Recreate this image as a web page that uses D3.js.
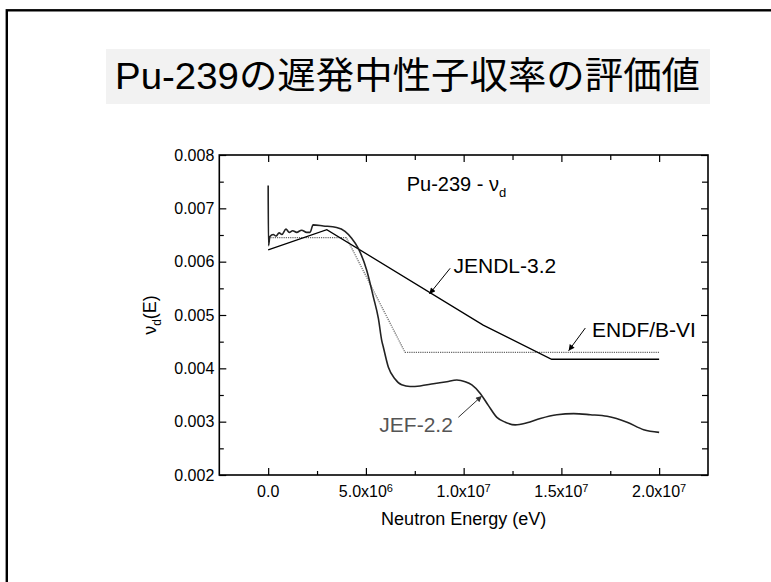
<!DOCTYPE html>
<html>
<head>
<meta charset="utf-8">
<script src="https://cdn.jsdelivr.net/npm/d3@7"></script>
<style>
  body { margin: 0; background: #fff; }
  svg { display: block; }
  text { font-family: "Liberation Sans", Arial, "Noto Sans CJK JP", sans-serif; }
</style>
</head>
<body>
<svg id="chart" width="771" height="582"></svg>
<script>
// ---- data ----
const slideTitle = "Pu-239の遅発中性子収率の評価値";
const plotTitle = "Pu-239 - ν";
const plotTitleSub = "d";
const xAxisTitle = "Neutron Energy (eV)";

const energyTicks = [0, 5e6, 1e7, 1.5e7, 2e7];
const energyTickMantissa = ["0.0", "5.0", "1.0", "1.5", "2.0"];
const energyTickExponent = ["", "6", "7", "7", "7"];
const energyMinorTicks = [2.5e6, 7.5e6, 1.25e7, 1.75e7];
const yieldTicks = [0.002, 0.003, 0.004, 0.005, 0.006, 0.007, 0.008];
const yieldMinorTicks = [0.0025, 0.0035, 0.0045, 0.0055, 0.0065, 0.0075];

// JENDL-3.2 delayed neutron yield
const jendlEnergy = [0, 3.0e6, 1.1e7, 1.45e7, 2.0e7];
const jendlNu = [0.00622, 0.00660, 0.00481, 0.00417, 0.00417];

// ENDF/B-VI delayed neutron yield
const endfEnergy = [0, 4.0e6, 7.0e6, 2.0e7];
const endfNu = [0.00645, 0.00645, 0.00430, 0.00430];

// JEF-2.2 delayed neutron yield
const jefEnergy = [0, 1.5e4, 9e4, 2.6e5, 4.0e5, 5.6e5, 7.0e5, 9.1e5, 1.08e6, 1.25e6,
  1.46e6, 1.71e6, 1.97e6, 2.14e6, 2.30e6, 2.82e6, 3.50e6, 3.93e6, 4.27e6, 4.61e6,
  5.04e6, 5.38e6, 5.64e6, 5.81e6, 5.89e6, 6.15e6, 6.49e6, 6.83e6, 7.26e6, 7.77e6,
  8.45e6, 9.14e6, 9.65e6, 1.008e7, 1.042e7, 1.085e7, 1.127e7, 1.17e7, 1.213e7, 1.264e7,
  1.324e7, 1.392e7, 1.477e7, 1.563e7, 1.648e7, 1.734e7, 1.836e7, 1.921e7, 2.0e7];
const jefNu = [0.00743, 0.00630, 0.00647, 0.00651, 0.00648, 0.00654, 0.00651, 0.00661, 0.00655, 0.00658,
  0.00655, 0.00659, 0.00655, 0.00655, 0.00669, 0.00667, 0.00664, 0.00657, 0.00644, 0.00625,
  0.00584, 0.00534, 0.00493, 0.00452, 0.00440, 0.00402, 0.00380, 0.00369, 0.00366, 0.00367,
  0.00371, 0.00375, 0.00378, 0.00375, 0.00369, 0.00353, 0.00330, 0.00308, 0.00299, 0.00294,
  0.00298, 0.00306, 0.00313, 0.00315, 0.00313, 0.00310, 0.00299, 0.00285, 0.00280];

const seriesNames = ["JENDL-3.2", "ENDF/B-VI", "JEF-2.2"];

// ---- layout ----
const svg = d3.select("#chart");
const plot = { left: 219.3, right: 708, top: 155, bottom: 475 };

const x = d3.scaleLinear().domain([-2.5e6, 2.25e7]).range([plot.left, plot.right]);
const y = d3.scaleLinear().domain([0.002, 0.008]).range([plot.bottom, plot.top]);

// slide frame
svg.append("rect")
  .attr("x", 6.8).attr("y", 10.3).attr("width", 820).attr("height", 620)
  .attr("fill", "none").attr("stroke", "#000").attr("stroke-width", 2.4);

// slide title on a light panel
svg.append("rect")
  .attr("x", 106).attr("y", 49).attr("width", 604).attr("height", 55)
  .attr("fill", "#f2f2f2");
svg.append("text")
  .attr("x", 407.5).attr("y", 89)
  .attr("text-anchor", "middle")
  .attr("font-size", 37)
  .attr("textLength", 585).attr("lengthAdjust", "spacingAndGlyphs")
  .attr("fill", "#000")
  .text(slideTitle);

// ---- axes ----
const axisStyle = g => {
  g.select(".domain").remove();
  g.selectAll("line").attr("stroke", "#000").attr("stroke-width", 1.2);
};

// bottom
svg.append("g").attr("transform", `translate(0,${plot.bottom})`)
  .call(d3.axisBottom(x).tickValues(energyTicks).tickSize(-7).tickFormat(""))
  .call(axisStyle);
svg.append("g").attr("transform", `translate(0,${plot.bottom})`)
  .call(d3.axisBottom(x).tickValues(energyMinorTicks).tickSize(-4).tickFormat(""))
  .call(axisStyle);
// top
svg.append("g").attr("transform", `translate(0,${plot.top})`)
  .call(d3.axisTop(x).tickValues(energyTicks).tickSize(-7).tickFormat(""))
  .call(axisStyle);
svg.append("g").attr("transform", `translate(0,${plot.top})`)
  .call(d3.axisTop(x).tickValues(energyMinorTicks).tickSize(-5).tickFormat(""))
  .call(axisStyle);
// left
svg.append("g").attr("transform", `translate(${plot.left},0)`)
  .call(d3.axisLeft(y).tickValues(yieldTicks).tickSize(-7).tickFormat(""))
  .call(axisStyle);
svg.append("g").attr("transform", `translate(${plot.left},0)`)
  .call(d3.axisLeft(y).tickValues(yieldMinorTicks).tickSize(-4.5).tickFormat(""))
  .call(axisStyle);
// right
svg.append("g").attr("transform", `translate(${plot.right},0)`)
  .call(d3.axisRight(y).tickValues(yieldTicks).tickSize(-7).tickFormat(""))
  .call(axisStyle);
svg.append("g").attr("transform", `translate(${plot.right},0)`)
  .call(d3.axisRight(y).tickValues(yieldMinorTicks).tickSize(-6).tickFormat(""))
  .call(axisStyle);

// plot frame
svg.append("rect")
  .attr("x", plot.left).attr("y", plot.top)
  .attr("width", plot.right - plot.left).attr("height", plot.bottom - plot.top)
  .attr("fill", "none").attr("stroke", "#000").attr("stroke-width", 1.6);

// y tick labels
svg.append("g").selectAll("text").data(yieldTicks).join("text")
  .attr("x", plot.left - 5).attr("y", d => y(d)).attr("dy", "0.36em")
  .attr("text-anchor", "end").attr("font-size", 16).attr("fill", "#000")
  .text(d3.format(".3f"));

// x tick labels with power-of-ten exponents
const xl = svg.append("g").selectAll("text").data(energyTicks).join("text")
  .attr("x", d => x(d)).attr("y", plot.bottom + 21.5)
  .attr("text-anchor", "middle").attr("font-size", 16).attr("fill", "#000");
xl.each(function (d, i) {
  const t = d3.select(this);
  if (energyTickExponent[i]) {
    t.append("tspan").text(energyTickMantissa[i] + "x10");
    t.append("tspan").attr("dy", -5).attr("font-size", 11).text(energyTickExponent[i]);
  } else {
    t.text(energyTickMantissa[i]);
  }
});

// axis titles
svg.append("text")
  .attr("x", (plot.left + plot.right) / 2).attr("y", 524.5)
  .attr("text-anchor", "middle").attr("font-size", 18).attr("fill", "#000")
  .text(xAxisTitle);

const yt = svg.append("text")
  .attr("transform", `translate(156,${(plot.top + plot.bottom) / 2}) rotate(-90)`)
  .attr("text-anchor", "middle").attr("font-size", 18).attr("fill", "#000");
yt.append("tspan").text("ν");
yt.append("tspan").attr("dy", 5).attr("font-size", 12).text("d");
yt.append("tspan").attr("dy", -5).text("(E)");

// plot title
const pt = svg.append("text")
  .attr("x", x(7.09e6)).attr("y", 190.7)
  .attr("font-size", 20).attr("fill", "#000");
pt.append("tspan").text(plotTitle);
pt.append("tspan").attr("dy", 6).attr("font-size", 13).text(plotTitleSub);

// ---- series ----
const zipPts = (xs, ys) => xs.map((e, i) => [e, ys[i]]);
const lineLin = d3.line().x(d => x(d[0])).y(d => y(d[1]));
const lineSmooth = d3.line().x(d => x(d[0])).y(d => y(d[1])).curve(d3.curveMonotoneX);

svg.append("path").datum(zipPts(endfEnergy, endfNu))
  .attr("d", lineLin).attr("fill", "none")
  .attr("stroke", "#666").attr("stroke-width", 1.2).attr("stroke-dasharray", "1.2,1");

svg.append("path").datum(zipPts(jendlEnergy, jendlNu))
  .attr("d", lineLin).attr("fill", "none")
  .attr("stroke", "#000").attr("stroke-width", 1.3);

svg.append("path").datum(zipPts(jefEnergy, jefNu))
  .attr("d", lineSmooth).attr("fill", "none")
  .attr("stroke", "#222").attr("stroke-width", 1.6).attr("stroke-linejoin", "round");

// ---- annotations: label + arrow pointing onto its curve ----
const defs = svg.append("defs");
[["headBlack", "#000"], ["headGray", "#333"]].forEach(([id, c]) => {
  defs.append("marker").attr("id", id)
    .attr("viewBox", "0 0 10 10").attr("refX", 10).attr("refY", 5)
    .attr("markerWidth", 9).attr("markerHeight", 6).attr("markerUnits", "userSpaceOnUse")
    .attr("orient", "auto")
    .append("path").attr("d", "M0,0 L10,5 L0,10 Z").attr("fill", c);
});

const notes = [
  { name: seriesNames[0], tx: 9.48e6, ty: 0.00578, anchor: "start", color: "#000", head: "headBlack",
    from: [9.31e6, 0.005876], to: [8.25e6, 0.005394] },
  { name: seriesNames[1], tx: 1.657e7, ty: 0.004582, anchor: "start", color: "#000", head: "headBlack",
    from: [1.6225e7, 0.004756], to: [1.537e7, 0.00433] },
  { name: seriesNames[2], tx: 9.45e6, ty: 0.002806, anchor: "end", color: "#555", head: "headGray",
    from: [9.73e6, 0.003082], to: [1.093e7, 0.003481] }
];

notes.forEach(n => {
  svg.append("line")
    .attr("x1", x(n.from[0])).attr("y1", y(n.from[1]))
    .attr("x2", x(n.to[0])).attr("y2", y(n.to[1]))
    .attr("stroke", n.head === "headGray" ? "#333" : "#000").attr("stroke-width", 1)
    .attr("marker-end", `url(#${n.head})`);
  svg.append("text")
    .attr("x", x(n.tx)).attr("y", y(n.ty))
    .attr("text-anchor", n.anchor).attr("font-size", 21).attr("fill", n.color)
    .text(n.name);
});
</script>
</body>
</html>
